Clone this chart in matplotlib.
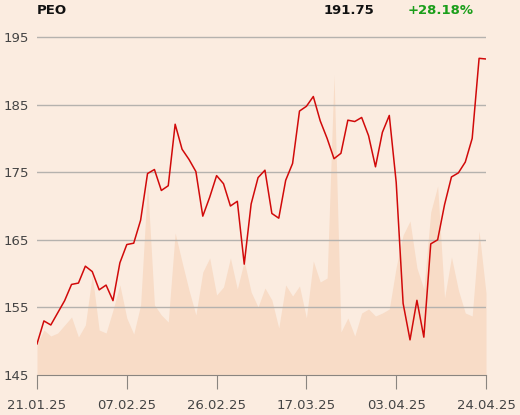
import matplotlib
matplotlib.use("Agg")
import matplotlib.pyplot as plt
import numpy as np

# daily close prices (index = trading day)
price = [149.6, 153.0, 152.4, 154.2, 156.0, 158.4, 158.6, 161.1, 160.3, 157.6,
         158.3, 156.0, 161.6, 164.3, 164.5, 167.9, 174.8, 175.4, 172.3, 173.0,
         182.1, 178.4, 176.9, 175.1, 168.5, 171.3, 174.5, 173.3, 170.0, 170.7,
         161.4, 170.3, 174.2, 175.3, 168.9, 168.2, 173.8, 176.3, 184.05, 184.75,
         186.2, 182.6, 180.0, 177.0, 177.8, 182.7, 182.5, 183.1, 180.4, 175.8,
         180.9, 183.4, 173.5, 155.6, 150.2, 156.05, 150.6, 164.4, 165.0, 170.2,
         174.3, 174.9, 176.5, 180.0, 191.85, 191.75]

# traded volume (relative units)
volume = [31, 45, 39, 42, 50, 58, 38, 50, 100, 45,
          42, 65, 90, 57, 41, 70, 192, 70, 60, 53,
          142, 113, 85, 60, 103, 117, 80, 88, 117, 86,
          114, 83, 68, 87, 75, 47, 90, 79, 89, 57,
          114, 93, 97, 300, 43, 57, 39, 62, 66, 59,
          62, 66, 108, 140, 154, 107, 86, 163, 189, 77,
          118, 85, 62, 59, 144, 82]

tick_pos = [0, 13, 26, 39, 52, 65]
tick_labels = ["21.01.25", "07.02.25", "26.02.25", "17.03.25", "03.04.25", "24.04.25"]
y_ticks = [145, 155, 165, 175, 185, 195]

ticker = "PEO"
last = "191.75"
change = "+28.18%"

bg = "#fbece0"
x = np.arange(len(price))

fig = plt.figure(figsize=(5.2, 4.15), dpi=100, facecolor=bg)
ax = fig.add_axes([37/520, 1 - 375/415, 449/520, 345/415])
ax2 = ax.twinx()
ax2.set_facecolor(bg)
ax.set_zorder(ax2.get_zorder() + 1)
ax.patch.set_visible(False)

ax2.fill_between(x, volume, 0, color="#f8dcc7", lw=0)
ax2.set_ylim(0, 345)
ax2.axis("off")

ax.plot(x, price, color="#d10a0a", lw=1.1, zorder=3)
ax.set_xlim(0, len(price) - 1)
ax.set_ylim(145, 196.04)
ax.set_yticks(y_ticks)
ax.set_xticks(tick_pos)
ax.set_xticklabels(tick_labels)
for v in y_ticks[1:]:
    ax.axhline(v, color="#b5b2ae", lw=1.0, zorder=1)

for s in ["top", "right", "left"]:
    ax.spines[s].set_visible(False)
ax.spines["bottom"].set_color("#8a8580")
ax.tick_params(axis="x", length=10, color="#8a8580", pad=7, labelsize=9.5, labelcolor="#444444")
ax.tick_params(axis="y", length=0, pad=6, labelsize=9.5, labelcolor="#444444")

fig.text(37/520, 1 - 10/415, ticker, fontsize=9.5, fontweight="bold", color="#111111", va="center")
fig.text(374/520, 1 - 10/415, last, fontsize=9.5, fontweight="bold", color="#111111", va="center", ha="right")
fig.text(408/520, 1 - 10/415, change, fontsize=9.5, fontweight="bold", color="#1a9e1a", va="center")

fig.savefig("out.png", dpi=100, facecolor=bg)
